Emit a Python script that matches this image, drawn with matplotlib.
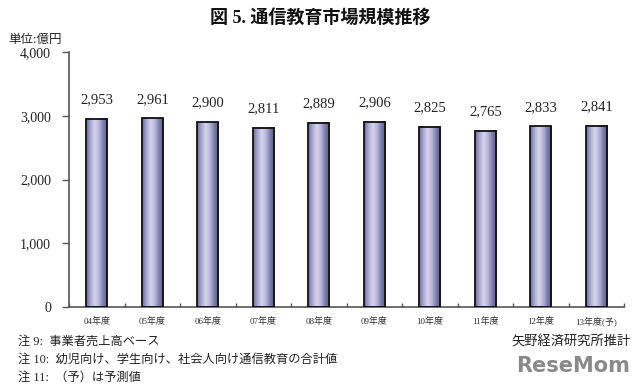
import numpy as np
import matplotlib
matplotlib.use("Agg")
import matplotlib.pyplot as plt
from matplotlib.colors import LinearSegmentedColormap

plt.rcParams['font.family'] = ['Liberation Serif', 'Noto Sans CJK JP']

years = ['04年度', '05年度', '06年度', '07年度', '08年度',
         '09年度', '10年度', '11年度', '12年度', '13年度(予)']
values = [2953, 2961, 2900, 2811, 2889, 2906, 2825, 2765, 2833, 2841]
yticks = [0, 1000, 2000, 3000, 4000]

fig = plt.figure(figsize=(6.4, 3.84), dpi=100)
ax = fig.add_axes([0.108, 0.2005, 0.867, 0.664])

x = np.arange(len(years))
width = 0.38
cmap = LinearSegmentedColormap.from_list(
    'cyl', ['#6c6c98', '#a9a9d2', '#d6d6ee', '#b4b4da', '#7b7ba8', '#5a5a85'])
grad = np.linspace(0, 1, 64).reshape(1, -1)

bars = ax.bar(x, values, width=width, facecolor='none',
              edgecolor='#111111', linewidth=1.3, zorder=3)
for rect in bars:
    x0 = rect.get_x()
    h = rect.get_height()
    ax.imshow(grad, cmap=cmap, aspect='auto',
              extent=(x0, x0 + rect.get_width(), 0, h), zorder=2,
              interpolation='bicubic')
    ax.annotate(f'{int(h):,}', (rect.get_x() + rect.get_width() / 2, h),
                xytext=(0, 9), textcoords='offset points',
                ha='center', va='bottom', fontsize=10.5, color='#222222')

ax.set_xlim(-0.5, len(years) - 0.5)
ax.set_ylim(0, 4000)
ax.set_yticks(yticks)
ax.set_yticklabels([f'{v:,}' for v in yticks], fontsize=10, color='#222222')
ax.tick_params(axis='y', direction='out', length=5, width=1, color='#555555', pad=8)

ax.set_xticks(x)
ax.set_xticklabels(years, fontsize=6.5, color='#333333')
ax.tick_params(axis='x', length=0, pad=7)
ax.set_xticks(np.arange(len(years) + 1) - 0.5, minor=True)
ax.tick_params(axis='x', which='minor', direction='in', length=3,
               width=1, color='#555555')

for s in ['top', 'right']:
    ax.spines[s].set_visible(False)
for s in ['left', 'bottom']:
    ax.spines[s].set_color('#555555')
    ax.spines[s].set_linewidth(1.2)

fig.text(0.5, 0.952, '図 5. 通信教育市場規模推移', ha='center', va='center',
         fontsize=13, fontweight='bold', color='#111111')
fig.text(0.013, 0.897, '単位:億円', ha='left', va='center', fontsize=9,
         color='#222222')

notes = ['注 9:  事業者売上高ベース',
         '注 10:  幼児向け、学生向け、社会人向け通信教育の合計値',
         '注 11:  （予）は予測値']
for i, t in enumerate(notes):
    fig.text(0.028, 0.109 - i * 0.047, t, ha='left', va='center',
             fontsize=8.8, color='#222222')
fig.text(0.985, 0.109, '矢野経済研究所推計', ha='right', va='center',
         fontsize=9.5, color='#222222')
fig.text(0.985, 0.048, 'ReseMom', ha='right', va='center', fontsize=15,
         fontweight='bold', family='DejaVu Sans', color='#8a8a8a')

fig.savefig('out.png', dpi=100, facecolor='white')
